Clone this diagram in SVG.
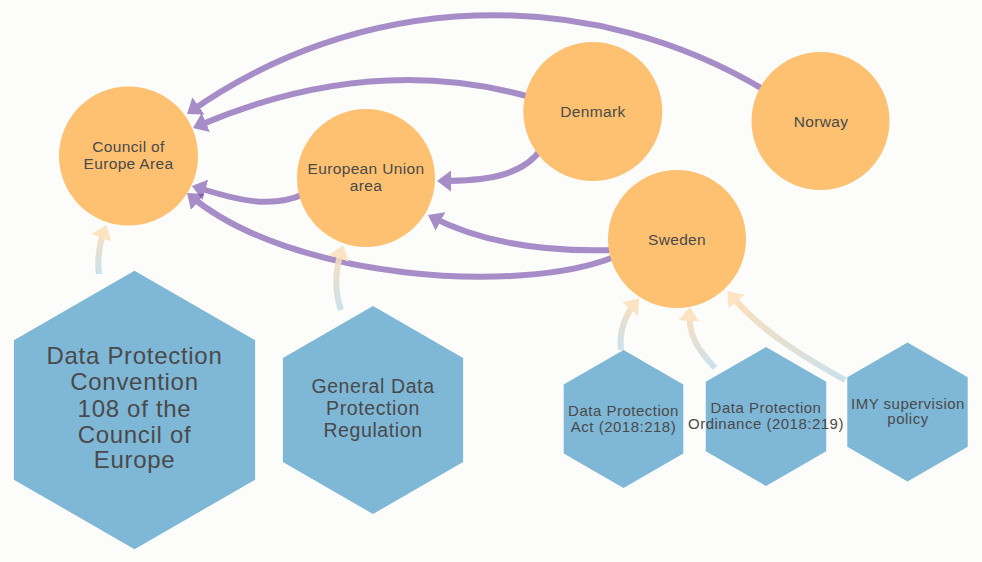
<svg xmlns="http://www.w3.org/2000/svg" width="982" height="562" viewBox="0 0 982 562">
<style>
.bg{fill:#fcfcfa}
.circ{fill:#fec171}
.hex{fill:#7fb7d7}
text{font-family:"Liberation Sans",Arial,sans-serif;fill:#4a4a4a;text-anchor:middle}
.ct{font-size:15.5px;letter-spacing:0.35px}
.hs{font-size:15px;letter-spacing:0.5px}
.hb{font-size:24px;letter-spacing:0.7px}
.hm{font-size:19.5px;letter-spacing:0.6px}
.rel{fill:none;stroke:#6f45a8;stroke-width:6;opacity:0.6;marker-end:url(#ap)}
.src{fill:none;stroke-width:6;opacity:0.9;marker-end:url(#ao)}
</style>
<defs>
<marker id="ap" markerUnits="userSpaceOnUse" viewBox="0 0 14 21" markerWidth="14" markerHeight="21" refX="10" refY="10.5" orient="auto"><path d="M0,0 L14,10.5 L0,21 z" fill="#6f45a8"/></marker>
<marker id="ao" markerUnits="userSpaceOnUse" viewBox="0 0 14 21" markerWidth="14" markerHeight="21" refX="10" refY="10.5" orient="auto"><path d="M0,0 L14,10.5 L0,21 z" fill="#fde2bc"/></marker>
<linearGradient id="ga" gradientUnits="userSpaceOnUse" x1="99" y1="274" x2="105" y2="228"><stop offset="0" stop-color="#c6dfec"/><stop offset="1" stop-color="#fcdcb4"/></linearGradient>
<linearGradient id="gb" gradientUnits="userSpaceOnUse" x1="341" y1="310" x2="342" y2="249"><stop offset="0" stop-color="#c6dfec"/><stop offset="1" stop-color="#fcdcb4"/></linearGradient>
<linearGradient id="gc" gradientUnits="userSpaceOnUse" x1="621" y1="350" x2="636" y2="302"><stop offset="0" stop-color="#c6dfec"/><stop offset="1" stop-color="#fcdcb4"/></linearGradient>
<linearGradient id="gd" gradientUnits="userSpaceOnUse" x1="715" y1="368" x2="689" y2="311"><stop offset="0" stop-color="#c6dfec"/><stop offset="1" stop-color="#fcdcb4"/></linearGradient>
<linearGradient id="ge" gradientUnits="userSpaceOnUse" x1="845" y1="380" x2="733" y2="298"><stop offset="0" stop-color="#c6dfec"/><stop offset="1" stop-color="#fcdcb4"/></linearGradient>
</defs>
<rect class="bg" x="0" y="0" width="982" height="562"/>
<g id="connectors">
<path class="rel" d="M766 91 A526 526 0 0 0 190.3 111.7"/>
<path class="rel" d="M530 97 Q370 52 196.7 126.4"/>
<path class="rel" d="M542 148 C522 178 480 181 441 181"/>
<path class="rel" d="M304 194 C265 212 220 194 195.8 187.1"/>
<path class="rel" d="M614 250 Q502 253.5 431.6 216.8"/>
<path class="rel" d="M614 257 C520 295 290 280 190.1 195.6"/>
<path class="src" stroke="url(#ga)" d="M99 274 C97 258 99 244 105 228.5"/>
<path class="src" stroke="url(#gb)" d="M341 310 C334 290 335 270 342 249"/>
<path class="src" stroke="url(#gc)" d="M621 350 C619 332 624 316 636.5 301.5"/>
<path class="src" stroke="url(#gd)" d="M715 368 C698 350 688 335 689.5 311"/>
<path class="src" stroke="url(#ge)" d="M845 380 C800 355 760 330 730 294"/>
</g>
<g id="council"><circle class="circ" cx="128.5" cy="156" r="69.5"/><text class="ct" x="128.5" y="152">Council of</text><text class="ct" x="128.5" y="169">Europe Area</text></g>
<g id="eu"><circle class="circ" cx="366" cy="178" r="69"/><text class="ct" x="366" y="173.5">European Union</text><text class="ct" x="366" y="190.5">area</text></g>
<g id="denmark"><circle class="circ" cx="592.8" cy="111.5" r="69.5"/><text class="ct" x="593" y="116.5">Denmark</text></g>
<g id="norway"><circle class="circ" cx="820.5" cy="121" r="69"/><text class="ct" x="821" y="126.5">Norway</text></g>
<g id="sweden"><circle class="circ" cx="677" cy="239" r="69"/><text class="ct" x="677" y="244.5">Sweden</text></g>
<g id="convention108"><polygon class="hex" points="134.5,270.7 255.1,340.35 255.1,479.65 134.5,549.3 13.9,479.65 13.9,340.35"/>
<text class="hb" x="134.5" y="364.3">Data Protection</text><text class="hb" x="134.5" y="390">Convention</text><text class="hb" x="134.5" y="416.5">108 of the</text><text class="hb" x="134.5" y="442.5">Council of</text><text class="hb" x="134.5" y="467.5">Europe</text></g>
<g id="gdpr"><polygon class="hex" points="373,306 463.1,358 463.1,462 373,514 282.9,462 282.9,358"/>
<text class="hm" x="373" y="393.3">General Data</text><text class="hm" x="373" y="415">Protection</text><text class="hm" x="373" y="436.7">Regulation</text></g>
<g id="act"><polygon class="hex" points="623.5,350 683.3,384.5 683.3,453.5 623.5,488 563.7,453.5 563.7,384.5"/>
<text class="hs" x="623.5" y="416">Data Protection</text><text class="hs" x="623.5" y="431.5">Act (2018:218)</text></g>
<g id="ordinance"><polygon class="hex" points="766,347 826.2,381.75 826.2,451.25 766,486 705.8,451.25 705.8,381.75"/>
<text class="hs" x="766" y="412.7">Data Protection</text><text class="hs" x="766" y="428.5">Ordinance (2018:219)</text></g>
<g id="imy"><polygon class="hex" points="907.5,342.5 967.7,377.25 967.7,446.75 907.5,481.5 847.3,446.75 847.3,377.25"/>
<text class="hs" x="908" y="408.5">IMY supervision</text><text class="hs" x="908" y="424">policy</text></g>
</svg>
